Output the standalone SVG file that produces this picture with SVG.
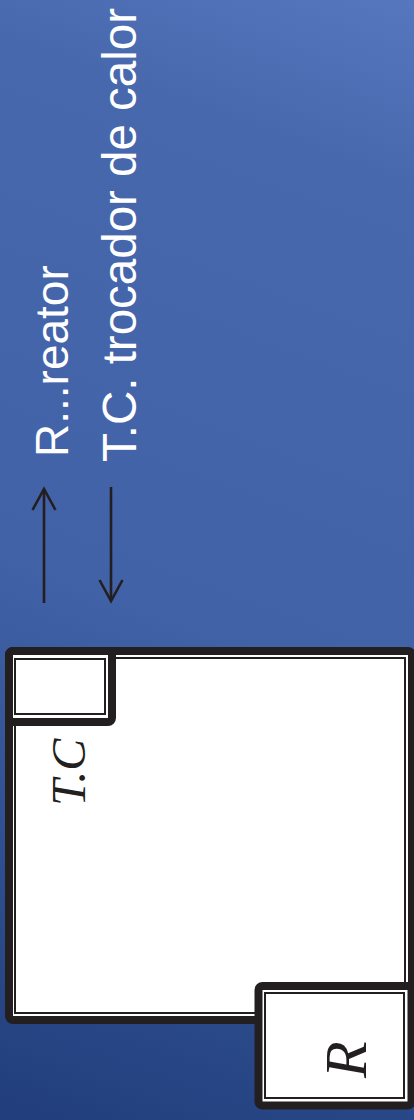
<svg xmlns="http://www.w3.org/2000/svg" width="414" height="1120" viewBox="0 0 414 1120">
<defs>
<linearGradient id="bg" gradientUnits="userSpaceOnUse" x1="414" y1="0" x2="0" y2="1120">
<stop offset="0" stop-color="#5676bd"/>
<stop offset="0.15" stop-color="#4868ae"/>
<stop offset="0.55" stop-color="#4262a8"/>
<stop offset="0.85" stop-color="#2b4a8a"/>
<stop offset="1" stop-color="#213d7b"/>
</linearGradient>
<marker id="open" viewBox="-24 -14 28 28" refX="0" refY="0" markerWidth="28" markerHeight="28" markerUnits="userSpaceOnUse" orient="auto">
<path d="M-21,-11.5 L0,0 L-21,11.5" fill="none" stroke="#231f20" stroke-width="2.6"/>
</marker>
<style>
.blk{fill:#fff;stroke:#231f20;stroke-width:8}
.thin{fill:none;stroke:#231f20;stroke-width:2}
.lbl{fill:#fff;font-family:"Liberation Sans",Arial,sans-serif}
.ital{fill:#231f20;font-family:"Liberation Serif","Times New Roman",serif;font-style:italic}
.arr{stroke:#231f20;stroke-width:2.6;fill:none;marker-end:url(#open)}
</style>
</defs>
<rect width="414" height="1120" fill="url(#bg)"/>
<g id="legend">
<text class="lbl" font-size="46" transform="translate(68,457) rotate(-90)">R...reator</text>
<text class="lbl" font-size="47.5" transform="translate(136,462) rotate(-90)">T.C. trocador de calor</text>
</g>
<g id="connectors">
<path class="arr" d="M44,603 L44,489"/>
<path class="arr" d="M111,487 L111,601"/>
</g>
<g id="main">
<rect class="blk" x="9" y="651" width="403" height="369" rx="4"/>
<rect class="thin" x="15" y="658" width="390" height="355"/>
</g>
<g id="TC">
<rect class="blk" x="9" y="651" width="103" height="71" rx="4"/>
<rect class="thin" x="15" y="659" width="90" height="55"/>
<text class="ital" font-size="48" transform="translate(85,806) rotate(-90)">T.C</text>
</g>
<g id="R">
<rect class="blk" x="258.5" y="986" width="153" height="119.5" rx="4" stroke-width="7"/>
<rect class="thin" x="265" y="993" width="139" height="105"/>
<text class="ital" font-size="60" transform="translate(366,1078) rotate(-90)">R</text>
</g>
</svg>
